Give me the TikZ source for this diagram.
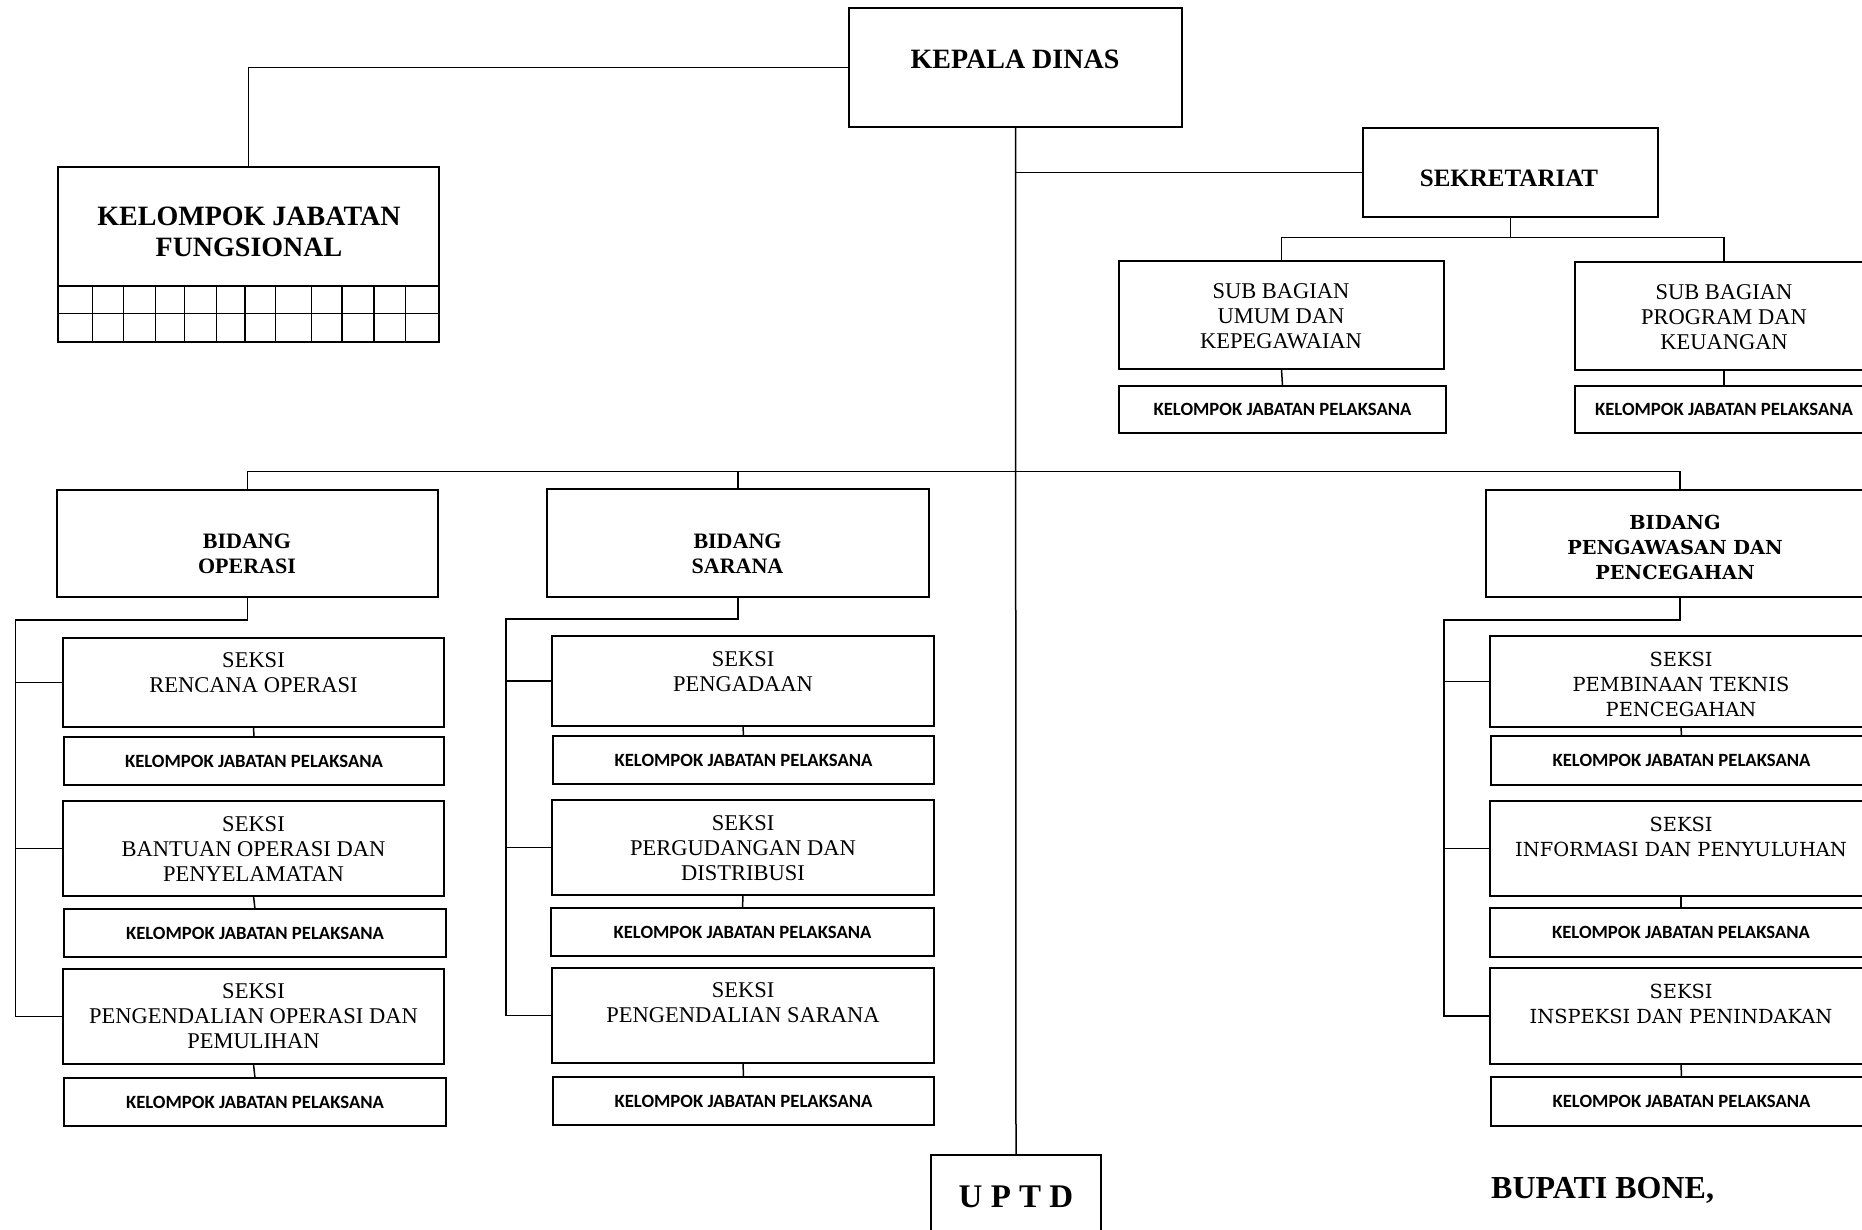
\documentclass[tikz,border=0pt]{standalone}
\usepackage{fontspec}
\setmainfont{Liberation Serif}
\newfontfamily\dvs{DejaVu Serif}
\newfontfamily\carl{Carlito}
\usetikzlibrary{calc}
\tikzset{
  box/.style={draw, line width=1.6pt, inner sep=0pt, outer sep=0pt},
  conn/.style={line width=1.5pt},
  kjpt/.style={inner sep=0pt, font=\carl\bfseries\fontsize{18.7}{20}\selectfont},
  seri/.style={inner sep=0pt, align=center, font=\fontsize{22.5}{25}\selectfont},
  serr/.style={inner sep=0pt, align=center, font=\dvs\fontsize{19.4}{25}\selectfont},
  head/.style={inner sep=0pt, align=center, font=\bfseries\fontsize{22}{25}\selectfont},
}
\newcommand\orgbox[6][]{\node[box,#1,minimum width={(#5-#3)*1pt},minimum height={(#6-#4)*1pt}] (#2) at ({(#3+#5)/2},{(#4+#6)/2}) {};}
\newcommand\kjpbox[5]{\orgbox{#1}{#2}{#3}{#4}{#5}\node[kjpt] (#1t) at (#1) {KELOMPOK JABATAN PELAKSANA};}
\begin{document}
\begin{tikzpicture}[x=1pt,y=-1pt]
\useasboundingbox (0,0) rectangle (1862,1230);
\clip (0,0) rectangle (1862,1230);
% top
\orgbox{kepala}{849}{8}{1182}{127}
\node[inner sep=0pt, font=\bfseries\fontsize{28}{31}\selectfont] (kepalat) at (1015,59) {KEPALA DINAS};
\orgbox{kjf}{58}{167}{439}{342}
\node[inner sep=0pt, align=center, font=\bfseries\fontsize{28}{31}\selectfont] (kjft) at (249,231.5) {KELOMPOK JABATAN\\FUNGSIONAL};
\draw[line width=1.6pt] (kjf.west |- 0,286) -- (kjf.east |- 0,286);
\draw[line width=1.6pt] (kjf.west |- 0,313.5) -- (kjf.east |- 0,313.5);
\foreach \gx in {92.6,123.2,155.3,184.4,216.5,244.8,275.4,311.4,342,374,405.5}{
  \draw[line width=1.4pt] (kjf.south -| \gx,0) -- ++(0,-56);
}
\orgbox{sek}{1363}{128}{1658}{217}
\node[inner sep=0pt, font=\bfseries\fontsize{25}{28}\selectfont] (sekt) at (1509,178) {SEKRETARIAT};
\orgbox{sbu}{1119}{261}{1444}{369}
\node[seri] (sbut) at (1281,316.5) {SUB BAGIAN\\UMUM DAN\\KEPEGAWAIAN};
\kjpbox{sbuk}{1119}{386}{1446}{433}
\orgbox{sbp}{1575}{262}{1873}{370}
\node[seri] (sbpt) at (1724,317) {SUB BAGIAN\\PROGRAM DAN\\KEUANGAN};
\kjpbox{sbpk}{1575}{386}{1873}{433}
% bidang
\orgbox{bop}{57}{490}{438}{597}
\node[head] (bopt) at (247,554) {BIDANG\\OPERASI};
\orgbox{bsa}{547}{489}{929}{597}
\node[head] (bsat) at (737.5,553.5) {BIDANG\\SARANA};
\orgbox{bpw}{1486}{490}{1874}{597}
\node[inner sep=0pt, align=center, font=\dvs\bfseries\fontsize{19.3}{25}\selectfont] (bpwt) at (1675,547.5) {BIDANG\\PENGAWASAN DAN\\PENCEGAHAN};
% operasi column
\orgbox{so1}{63}{638}{444}{727}
\node[seri] (so1t) at (253.5,672.5) {SEKSI\\RENCANA OPERASI};
\kjpbox{so1k}{64}{737}{444}{785}
\orgbox{so2}{63}{801}{444}{896}
\node[seri] (so2t) at (253.5,849) {SEKSI\\BANTUAN OPERASI DAN\\PENYELAMATAN};
\kjpbox{so2k}{64}{909}{446}{957}
\orgbox{so3}{63}{969}{444}{1064}
\node[seri] (so3t) at (253.5,1016.5) {SEKSI\\PENGENDALIAN OPERASI DAN\\PEMULIHAN};
\kjpbox{so3k}{64}{1078}{446}{1126}
% sarana column
\orgbox{ss1}{552}{636}{934}{726}
\node[seri] (ss1t) at (743,671.5) {SEKSI\\PENGADAAN};
\kjpbox{ss1k}{553}{736}{934}{784}
\orgbox{ss2}{552}{800}{934}{895}
\node[seri] (ss2t) at (743,848) {SEKSI\\PERGUDANGAN DAN\\DISTRIBUSI};
\kjpbox{ss2k}{551}{908}{934}{956}
\orgbox{ss3}{552}{968}{934}{1063}
\node[seri] (ss3t) at (743,1003) {SEKSI\\PENGENDALIAN SARANA};
\kjpbox{ss3k}{553}{1077}{934}{1125}
% pengawasan column
\orgbox{sp1}{1490}{636}{1872}{727}
\node[serr] (sp1t) at (1681,684) {SEKSI\\PEMBINAAN TEKNIS\\PENCEGAHAN};
\kjpbox{sp1k}{1491}{736}{1872}{785}
\orgbox{sp2}{1490}{801}{1872}{896}
\node[serr] (sp2t) at (1681,836.5) {SEKSI\\INFORMASI DAN PENYULUHAN};
\kjpbox{sp2k}{1490}{908}{1872}{957}
\orgbox{sp3}{1490}{968}{1872}{1064}
\node[serr] (sp3t) at (1681,1004) {SEKSI\\INSPEKSI DAN PENINDAKAN};
\kjpbox{sp3k}{1491}{1077}{1872}{1126}
% uptd
\orgbox{uptd}{931}{1155}{1101}{1262}
\node[inner sep=0pt, font=\bfseries\fontsize{33}{36}\selectfont] (uptdt) at (1016,1197) {U P T D};
\node[inner sep=0pt, anchor=base west, font=\bfseries\fontsize{32}{36}\selectfont] (bupati) at (1491,1198) {BUPATI BONE,};
% connectors
\draw[conn] (kepala.west) -| (kjf.north);
\draw[conn] (kepala.south) -- (uptd.north);
\draw[conn] (kepala.south |- sek.west) -- (sek.west);
\coordinate (sekbus) at ($(sek.south)+(0,20.5)$);
\draw[conn] (sek.south) -- (sekbus);
\draw[conn] (sbu.north) |- (sekbus) -| (sbp.north);
\draw[conn] (sbu.south) -- (sbuk.north);
\draw[conn] (sbp.south) -- (sbpk.north);
\coordinate (bbus) at (kepala.south |- 0,471.5);
\draw[conn] (bop.north) |- (bbus) -| (bpw.north);
\draw[conn] (bsa.north) -- (bsa.north |- bbus);
% operasi tree
\coordinate (opL) at (15.5,620);
\draw[conn] (bop.south) |- (opL) |- (so3.west);
\draw[conn] (opL |- so1.west) -- (so1.west);
\draw[conn] (opL |- so2.west) -- (so2.west);
\draw[conn] (so1.south) -- (so1k.north);
\draw[conn] (so2.south) -- (so2k.north);
\draw[conn] (so3.south) -- (so3k.north);
% sarana tree
\coordinate (saL) at (506,619);
\draw[conn] (bsa.south) |- (saL) |- (ss3.west);
\draw[conn] (saL |- ss1.west) -- (ss1.west);
\draw[conn] (saL |- ss2.west) -- (ss2.west);
\draw[conn] (ss1.south) -- (ss1k.north);
\draw[conn] (ss2.south) -- (ss2k.north);
\draw[conn] (ss3.south) -- (ss3k.north);
% pengawasan tree
\coordinate (pwL) at (1444,620);
\draw[conn] (bpw.south) |- (pwL) |- (sp3.west);
\draw[conn] (pwL |- sp1.west) -- (sp1.west);
\draw[conn] (pwL |- sp2.west) -- (sp2.west);
\draw[conn] (sp1.south) -- (sp1k.north);
\draw[conn] (sp2.south) -- (sp2k.north);
\draw[conn] (sp3.south) -- (sp3k.north);
\end{tikzpicture}
\end{document}
